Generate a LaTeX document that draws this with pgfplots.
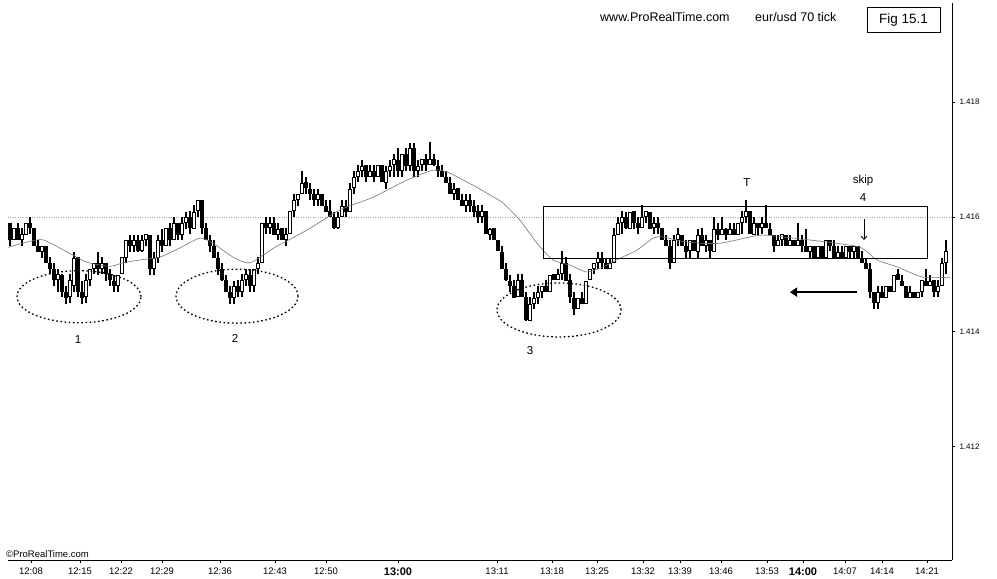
\documentclass[border=0pt]{standalone}
\usepackage{fontspec}
\setmainfont{Liberation Sans}
\usepackage{pgfplots}
\pgfplotsset{compat=1.18}
\usepackage{pgfplotstable}
\usetikzlibrary{arrows.meta}

% eur/usd 70 tick candles: x = bar position, open/high/low/close
\pgfplotstableread{
x o h l c
10 1.4159 1.4159 1.4155 1.4156
14 1.4156 1.4158 1.4156 1.4158
18 1.4158 1.4159 1.4156 1.4156
22 1.4156 1.4158 1.4155 1.4157
26 1.4157 1.4159 1.4157 1.4159
30 1.4159 1.4160 1.4157 1.4158
34 1.4158 1.4158 1.4155 1.4155
38 1.4155 1.4156 1.4154 1.4154
42 1.4154 1.4155 1.4153 1.4155
46 1.4155 1.4155 1.4152 1.4152
50 1.4152 1.4153 1.4150 1.4151
54 1.4151 1.4152 1.4148 1.4149
58 1.4149 1.4151 1.4147 1.4150
62 1.4150 1.4150 1.4146 1.4147
66 1.4147 1.4148 1.4145 1.4146
70 1.4146 1.4150 1.4145 1.4149
74 1.4148 1.4154 1.4147 1.4153
78 1.4153 1.4153 1.4146 1.4147
82 1.4147 1.4149 1.4145 1.4146
86 1.4146 1.4150 1.4145 1.4149
90 1.4149 1.4151 1.4148 1.4151
94 1.4151 1.4152 1.4150 1.4152
98 1.4152 1.4154 1.4150 1.4151
102 1.4151 1.4153 1.4150 1.4152
106 1.4152 1.4152 1.4149 1.4150
110 1.4150 1.4151 1.4148 1.4149
114 1.4149 1.4150 1.4147 1.4148
118 1.4148 1.4150 1.4147 1.4150
122 1.4150 1.4153 1.4150 1.4153
126 1.4153 1.4156 1.4152 1.4156
130 1.4156 1.4157 1.4154 1.4155
134 1.4155 1.4157 1.4154 1.4156
138 1.4156 1.4157 1.4154 1.4154
142 1.4154 1.4157 1.4154 1.4156
146 1.4156 1.4157 1.4155 1.4157
150 1.4157 1.4157 1.4150 1.4151
154 1.4151 1.4154 1.4150 1.4153
158 1.4153 1.4157 1.4152 1.4156
162 1.4156 1.4158 1.4154 1.4155
166 1.4155 1.4158 1.4155 1.4158
170 1.4158 1.4159 1.4155 1.4156
174 1.4156 1.4160 1.4156 1.4159
178 1.4159 1.4159 1.4156 1.4157
182 1.4157 1.4160 1.4156 1.4159
186 1.4159 1.4161 1.4158 1.4160
190 1.4160 1.4161 1.4157 1.4158
194 1.4158 1.4162 1.4158 1.4161
198 1.4161 1.4163 1.4160 1.4163
202 1.4163 1.4163 1.4157 1.4158
206 1.4158 1.4159 1.4156 1.4156
210 1.4156 1.4157 1.4154 1.4155
214 1.4155 1.4156 1.4153 1.4153
218 1.4153 1.4154 1.4150 1.4151
222 1.4151 1.4152 1.4149 1.4149
226 1.4149 1.4150 1.4147 1.4147
230 1.4147 1.4148 1.4145 1.4146
234 1.4146 1.4149 1.4145 1.4148
238 1.4148 1.4149 1.4146 1.4147
242 1.4147 1.4150 1.4146 1.4149
246 1.4149 1.4151 1.4148 1.4150
250 1.4150 1.4151 1.4147 1.4148
254 1.4148 1.4151 1.4147 1.4151
258 1.4151 1.4153 1.4150 1.4152
262 1.4152 1.4159 1.4152 1.4159
266 1.4159 1.4160 1.4157 1.4158
270 1.4158 1.4160 1.4157 1.4159
274 1.4159 1.4160 1.4157 1.4157
278 1.4157 1.4159 1.4156 1.4158
282 1.4158 1.4158 1.4156 1.4156
286 1.4156 1.4158 1.4155 1.4157
290 1.4157 1.4161 1.4157 1.4161
294 1.4161 1.4164 1.4160 1.4163
298 1.4163 1.4164 1.4162 1.4164
302 1.4164 1.4168 1.4164 1.4166
306 1.4166 1.4167 1.4164 1.4165
310 1.4165 1.4166 1.4163 1.4164
314 1.4164 1.4165 1.4162 1.4163
318 1.4163 1.4165 1.4162 1.4164
322 1.4164 1.4164 1.4162 1.4162
326 1.4162 1.4163 1.4161 1.4161
330 1.4161 1.4163 1.4160 1.4160
334 1.4160 1.4161 1.4158 1.4158
338 1.4158 1.4161 1.4158 1.4160
342 1.4160 1.4163 1.4160 1.4162
346 1.4162 1.4163 1.4160 1.4161
350 1.4161 1.4166 1.4161 1.4165
354 1.4165 1.4168 1.4164 1.4167
358 1.4167 1.4169 1.4166 1.4168
362 1.4168 1.4170 1.4167 1.4169
366 1.4169 1.4169 1.4166 1.4167
370 1.4167 1.4169 1.4167 1.4168
374 1.4168 1.4169 1.4166 1.4167
378 1.4167 1.4169 1.4167 1.4169
382 1.4169 1.4169 1.4166 1.4166
386 1.4166 1.4169 1.4165 1.4168
390 1.4168 1.4170 1.4167 1.4169
394 1.4169 1.4171 1.4167 1.4170
398 1.4170 1.4172 1.4167 1.4168
402 1.4168 1.4171 1.4167 1.4171
406 1.4171 1.4172 1.4168 1.4169
410 1.4169 1.4173 1.4168 1.4172
414 1.4172 1.4173 1.4167 1.4168
418 1.4168 1.4170 1.4167 1.4169
422 1.4169 1.4170 1.4168 1.4170
426 1.4170 1.4171 1.4168 1.4169
430 1.4169 1.4173 1.4169 1.4170
434 1.4170 1.4171 1.4169 1.4169
438 1.4169 1.4170 1.4167 1.4168
442 1.4168 1.4169 1.4167 1.4167
446 1.4167 1.4168 1.4166 1.4166
450 1.4166 1.4167 1.4164 1.4164
454 1.4164 1.4166 1.4163 1.4165
458 1.4165 1.4165 1.4163 1.4163
462 1.4163 1.4164 1.4162 1.4162
466 1.4162 1.4164 1.4161 1.4163
470 1.4163 1.4164 1.4161 1.4162
474 1.4162 1.4163 1.4160 1.4161
478 1.4161 1.4162 1.4159 1.4160
482 1.4160 1.4162 1.4159 1.4161
486 1.4161 1.4161 1.4157 1.4157
490 1.4157 1.4158 1.4156 1.4158
494 1.4158 1.4158 1.4156 1.4156
498 1.4156 1.4156 1.4154 1.4154
502 1.4154 1.4155 1.4151 1.4151
506 1.4151 1.4152 1.4149 1.4149
510 1.4149 1.4150 1.4147 1.4148
514 1.4148 1.4149 1.4146 1.4146
518 1.4146 1.4150 1.4146 1.4149
522 1.4149 1.4150 1.4146 1.4146
526 1.4146 1.4147 1.4142 1.4142
530 1.4142 1.4146 1.4142 1.4145
534 1.4145 1.4147 1.4144 1.4146
538 1.4146 1.4148 1.4145 1.4147
542 1.4147 1.4148 1.4146 1.4148
546 1.4148 1.4149 1.4147 1.4147
550 1.4147 1.4150 1.4147 1.4150
554 1.4150 1.4150 1.4149 1.4149
558 1.4149 1.4151 1.4149 1.4150
562 1.4150 1.4154 1.4149 1.4152
566 1.4152 1.4153 1.4149 1.4149
570 1.4149 1.4150 1.4145 1.4146
574 1.4146 1.4147 1.4143 1.4144
578 1.4144 1.4146 1.4144 1.4146
582 1.4146 1.4147 1.4145 1.4145
586 1.4145 1.4149 1.4145 1.4149
590 1.4149 1.4151 1.4149 1.4151
594 1.4151 1.4152 1.4150 1.4152
598 1.4152 1.4154 1.4151 1.4153
602 1.4153 1.4154 1.4151 1.4152
606 1.4152 1.4153 1.4151 1.4151
610 1.4151 1.4153 1.4151 1.4152
614 1.4152 1.4158 1.4152 1.4157
618 1.4157 1.4160 1.4157 1.4159
622 1.4159 1.4161 1.4157 1.4160
626 1.4160 1.4161 1.4158 1.4158
630 1.4158 1.4161 1.4158 1.4161
634 1.4161 1.4161 1.4158 1.4159
638 1.4159 1.4160 1.4157 1.4158
642 1.4158 1.4162 1.4158 1.4160
646 1.4160 1.4161 1.4159 1.4161
650 1.4161 1.4161 1.4158 1.4158
654 1.4158 1.4160 1.4157 1.4159
658 1.4159 1.4160 1.4157 1.4158
662 1.4158 1.4158 1.4156 1.4156
666 1.4156 1.4157 1.4155 1.4155
670 1.4155 1.4156 1.4151 1.4152
674 1.4152 1.4157 1.4152 1.4156
678 1.4156 1.4158 1.4155 1.4157
682 1.4157 1.4157 1.4155 1.4155
686 1.4155 1.4156 1.4153 1.4154
690 1.4154 1.4156 1.4153 1.4156
694 1.4156 1.4156 1.4154 1.4154
698 1.4154 1.4158 1.4153 1.4157
702 1.4157 1.4158 1.4155 1.4155
706 1.4155 1.4157 1.4154 1.4156
710 1.4156 1.4156 1.4153 1.4154
714 1.4154 1.4160 1.4154 1.4158
718 1.4158 1.4159 1.4156 1.4157
722 1.4157 1.4160 1.4157 1.4158
726 1.4158 1.4158 1.4156 1.4157
730 1.4157 1.4159 1.4157 1.4158
734 1.4158 1.4159 1.4157 1.4157
738 1.4157 1.4159 1.4157 1.4159
742 1.4159 1.4161 1.4157 1.4160
746 1.4160 1.4163 1.4159 1.4161
750 1.4161 1.4161 1.4157 1.4157
754 1.4157 1.4160 1.4157 1.4159
758 1.4159 1.4159 1.4157 1.4158
762 1.4158 1.4160 1.4157 1.4159
766 1.4159 1.4162 1.4158 1.4158
770 1.4158 1.4159 1.4157 1.4157
774 1.4157 1.4157 1.4154 1.4155
778 1.4155 1.4157 1.4155 1.4156
782 1.4156 1.4157 1.4155 1.4157
786 1.4157 1.4157 1.4155 1.4155
790 1.4155 1.4157 1.4155 1.4156
794 1.4156 1.4156 1.4155 1.4155
798 1.4155 1.4159 1.4155 1.4156
802 1.4156 1.4157 1.4154 1.4155
806 1.4155 1.4158 1.4154 1.4154
810 1.4154 1.4155 1.4153 1.4155
814 1.4155 1.4155 1.4153 1.4153
818 1.4153 1.4155 1.4153 1.4155
822 1.4155 1.4155 1.4153 1.4153
826 1.4153 1.4156 1.4153 1.4156
830 1.4156 1.4156 1.4154 1.4155
834 1.4155 1.4156 1.4153 1.4153
838 1.4153 1.4155 1.4153 1.4154
842 1.4154 1.4155 1.4153 1.4153
846 1.4153 1.4155 1.4153 1.4155
850 1.4155 1.4155 1.4153 1.4154
854 1.4154 1.4155 1.4153 1.4155
858 1.4155 1.4155 1.4153 1.4153
862 1.4153 1.4154 1.4152 1.4152
866 1.4152 1.4153 1.4151 1.4151
870 1.4151 1.4152 1.4146 1.4147
874 1.4147 1.4147 1.4144 1.4145
878 1.4145 1.4148 1.4144 1.4147
882 1.4147 1.4148 1.4146 1.4146
886 1.4146 1.4148 1.4146 1.4148
890 1.4148 1.4148 1.4147 1.4147
894 1.4147 1.4150 1.4147 1.4150
898 1.4150 1.4151 1.4149 1.4149
902 1.4149 1.4150 1.4148 1.4148
906 1.4148 1.4148 1.4146 1.4146
910 1.4146 1.4148 1.4146 1.4147
914 1.4147 1.4147 1.4146 1.4146
918 1.4146 1.4147 1.4146 1.4147
922 1.4147 1.4149 1.4146 1.4149
926 1.4149 1.4151 1.4148 1.4148
930 1.4148 1.4150 1.4148 1.4149
934 1.4149 1.4149 1.4146 1.4147
938 1.4147 1.4149 1.4146 1.4148
942 1.4148 1.4153 1.4148 1.4152
946 1.4152 1.4156 1.4150 1.4154
}\candles

% moving average line
\pgfplotstableread{
x ma
8 1.41547
27 1.41556
43 1.41560
67 1.41539
87 1.41521
110 1.41514
123 1.41520
140 1.41525
160 1.41530
180 1.41546
200 1.41563
213 1.41554
233 1.41530
250 1.41520
275 1.41547
307 1.41577
340 1.41612
373 1.41634
407 1.41664
433 1.41681
447 1.41678
473 1.41655
490 1.41638
503 1.41624
520 1.41594
537 1.41554
553 1.41525
570 1.41516
587 1.41504
603 1.41513
620 1.41528
637 1.41542
653 1.41563
663 1.41565
687 1.41556
720 1.41554
760 1.41568
793 1.41563
827 1.41556
860 1.41547
877 1.41525
897 1.41513
923 1.41495
950 1.41495
}\avg

\begin{document}
\begin{tikzpicture}
\begin{axis}[
    name=ax,
    scale only axis,
    width=944pt, height=557pt,
    xmin=8, xmax=952,
    ymin=1.41003, ymax=1.41972,
    axis x line*=bottom,
    axis y line*=right,
    axis line style={black, line width=0.9pt},
    tick align=outside,
    major tick length=3pt,
    tick style={black, line width=0.6pt},
    xtick={31,80,121,162,220,275,326,398,497,552,597,643,680,721,767,803,845,882,927},
    xticklabels={12:08,12:15,12:22,12:29,12:36,12:43,12:50,{\fontsize{11}{12}\selectfont\bfseries 13:00},13:11,13:18,13:25,13:32,13:39,13:46,13:53,{\fontsize{11}{12}\selectfont\bfseries 14:00},14:07,14:14,14:21},
    ytick={1.412,1.414,1.416,1.418},
    yticklabels={1.412,1.414,1.416,1.418},
    xticklabel style={font=\fontsize{9.5}{10}\selectfont, yshift=-1pt},
    yticklabel style={font=\fontsize{8}{9}\selectfont, xshift=1pt},
    /pgf/number format/assume math mode=true,
    extra y ticks={1.416},
    extra y tick labels={},
    extra y tick style={grid=major, major grid style={black!35, dotted, line width=0.6pt}, major tick length=0pt},
    clip=false,
]
% wicks
\addplot[draw=none, forget plot, error bars/.cd, y dir=both, y explicit, error mark=none,
    error bar style={draw=black, solid, line width=1.1pt}]
    table[x=x, y expr=(\thisrow{h}+\thisrow{l})/2, y error expr=(\thisrow{h}-\thisrow{l})/2] {\candles};
% bodies
\addplot[draw=none, forget plot, error bars/.cd, y dir=both, y explicit, error mark=none,
    error bar style={draw=black, solid, line width=3.8pt}]
    table[x=x, y expr=(\thisrow{o}+\thisrow{c})/2, y error expr=abs(\thisrow{c}-\thisrow{o})/2] {\candles};
% hollow inside of rising bars
\addplot[draw=none, forget plot, error bars/.cd, y dir=both, y explicit, error mark=none,
    error bar style={draw=white, solid, line width=1.7pt}]
    table[x=x, y expr=(\thisrow{o}+\thisrow{c})/2, y error expr={max((\thisrow{c}-\thisrow{o})/2-0.000017,0)}] {\candles};
% moving average
\addplot[black!55, line width=0.6pt, smooth, tension=0.4, mark=none] table[x=x, y=ma] {\avg};

% annotations
\draw[line width=0.8pt] (axis cs:543,1.41619) rectangle (axis cs:927,1.41527);
\draw[line width=1.3pt, dash pattern=on 1.6pt off 2.6pt] (axis cs:79,1.41461) ellipse [x radius=62pt, y radius=26pt];
\draw[line width=1.3pt, dash pattern=on 1.6pt off 2.6pt] (axis cs:237,1.41462) ellipse [x radius=61pt, y radius=27pt];
\draw[line width=1.3pt, dash pattern=on 1.6pt off 2.6pt] (axis cs:559,1.41438) ellipse [x radius=62pt, y radius=27pt];
\node[font=\fontsize{11.5}{12}\selectfont] at (axis cs:78,1.41386) {1};
\node[font=\fontsize{11.5}{12}\selectfont] at (axis cs:235,1.41389) {2};
\node[font=\fontsize{11.5}{12}\selectfont] at (axis cs:530,1.41368) {3};
\node[font=\fontsize{11.5}{12}\selectfont] at (axis cs:747,1.41660) {T};
\node[font=\fontsize{11.5}{12}\selectfont] at (axis cs:863,1.41664) {skip};
\node[font=\fontsize{11.5}{12}\selectfont] at (axis cs:863,1.41634) {4};
\draw[line width=0.8pt, -{Straight Barb[length=3pt, width=6pt]}] (axis cs:864,1.41596) -- (axis cs:864,1.41560);
\draw[line width=2.6pt, -{Triangle[length=7pt, width=9pt]}] (axis cs:857,1.41469) -- (axis cs:790,1.41469);

% header
\node[anchor=west, font=\fontsize{12.5}{14}\selectfont, inner sep=0pt] at (axis cs:600,1.41947) {www.ProRealTime.com};
\node[anchor=west, font=\fontsize{12.5}{14}\selectfont, inner sep=0pt] at (axis cs:755,1.41947) {eur/usd 70 tick};
\draw[line width=0.8pt] (axis cs:867,1.41965) rectangle (axis cs:940,1.41921);
\node[font=\fontsize{13.5}{14}\selectfont] at (axis cs:903.5,1.41943) {Fig 15.1};
\node[anchor=south west, inner sep=0pt, font=\fontsize{9.5}{10}\selectfont, yshift=2pt] at (axis cs:6,1.41003) {©ProRealTime.com};
\end{axis}
\pgfresetboundingbox
\path ([shift={(-8pt,-18pt)}]ax.south west) rectangle ([shift={(45pt,3pt)}]ax.north east);
\end{tikzpicture}
\end{document}
